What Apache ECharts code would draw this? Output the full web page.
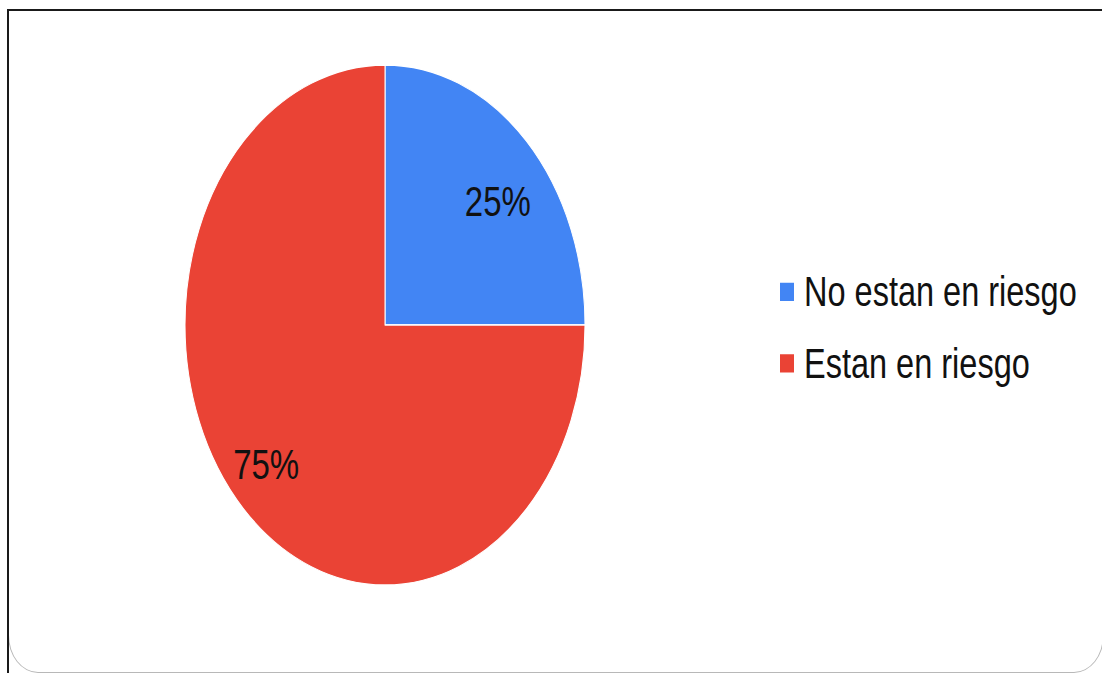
<!DOCTYPE html>
<html>
<head>
<meta charset="utf-8">
<script src="https://cdn.jsdelivr.net/npm/echarts@6/dist/echarts.min.js"></script>
<style>
  html, body { margin: 0; padding: 0; background: #fff; overflow: hidden; }
  #frame {
    position: absolute; left: 8px; top: 9px; width: 1096px; height: 664px;
    border: 1px solid #b8b8b8; border-radius: 0 0 30px 30px / 0 0 38px 38px; box-sizing: border-box;
  }
  #topline { position: absolute; left: 7px; top: 9px; width: 1102px; height: 2px; background: #1a1a1a; }
  #leftline { position: absolute; left: 7px; top: 9px; width: 2px; height: 670px; background: #1a1a1a; }
  /* the source image is stretched vertically, so is the chart */
  #main {
    position: absolute; left: 0; top: 0; width: 1102px; height: 518px;
    transform: scaleY(1.3); transform-origin: 0 0;
  }
</style>
</head>
<body>
<div id="frame"></div>
<div id="topline"></div>
<div id="leftline"></div>
<div id="main"></div>
<script>
// datos del gráfico
var categories = ['No estan en riesgo', 'Estan en riesgo'];
var values = [25, 75];
var colors = ['#4285F4', '#EA4335'];
// desplazamiento de las etiquetas hacia el borde
var labelOffsets = [[40, -23], [-46, 34]];

var myChart = echarts.init(document.getElementById('main'), null, { renderer: 'svg' });

var option = {
    animation: false,
    color: colors,
    legend: {
        orient: 'vertical',
        left: 778,
        top: 208,
        padding: 0,
        itemWidth: 16,
        itemHeight: 16,
        itemGap: 22,
        icon: 'rect',
        data: categories,
        textStyle: {
            fontFamily: 'Liberation Sans, Arial, sans-serif',
            fontSize: 32.5,
            lineHeight: 32,
            color: '#111',
            padding: [0, 0, 0, 4]
        }
    },
    series: [{
        type: 'pie',
        center: [385, 250],
        radius: 200,
        startAngle: 90,
        clockwise: true,
        itemStyle: { borderColor: '#fff', borderWidth: 1 },
        label: {
            position: 'inside',
            formatter: '{d}%',
            fontFamily: 'Liberation Sans, Arial, sans-serif',
            fontSize: 33,
            color: '#111'
        },
        labelLine: { show: false },
        emphasis: { disabled: true },
        data: categories.map(function (name, i) {
            return { name: name, value: values[i], label: { offset: labelOffsets[i] } };
        })
    }]
};

myChart.setOption(option);
</script>
</body>
</html>
